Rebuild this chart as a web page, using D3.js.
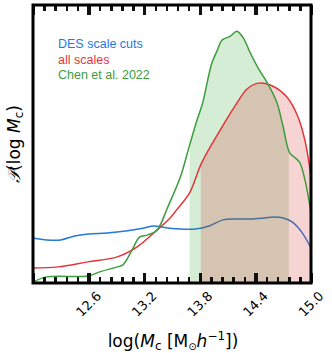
<!DOCTYPE html>
<html>
<head>
<meta charset="utf-8">
<script src="https://cdn.jsdelivr.net/npm/d3@7"></script>
<style>
  body { margin: 0; background: #fff; }
  svg { display: block; }
</style>
</head>
<body>
<div id="chart"></div>
<script>
// x grid (log Mc) and curves
var blueX = [12.0, 12.15, 12.3, 12.45, 12.6, 12.8, 13.0, 13.2, 13.3, 13.45, 13.6, 13.75, 13.9, 14.05, 14.2, 14.35, 14.5, 14.6, 14.7, 14.8, 14.9, 15.0];
var blueY = [0.162, 0.155, 0.155, 0.169, 0.176, 0.180, 0.187, 0.198, 0.205, 0.198, 0.194, 0.194, 0.205, 0.227, 0.230, 0.230, 0.234, 0.237, 0.234, 0.219, 0.183, 0.126];

var redX = [12.0, 12.27, 12.59, 12.91, 13.12, 13.34, 13.48, 13.55, 13.69, 13.82, 14.02, 14.2, 14.31, 14.43, 14.56, 14.74, 14.86, 14.94, 15.0];
var redY = [0.054, 0.058, 0.076, 0.094, 0.129, 0.191, 0.234, 0.263, 0.324, 0.432, 0.550, 0.647, 0.698, 0.719, 0.712, 0.669, 0.597, 0.504, 0.381];

var greenX = [12.0, 12.15, 12.59, 12.72, 12.91, 12.97, 13.07, 13.15, 13.24, 13.34, 13.45, 13.59, 13.69, 13.77, 13.83, 13.93, 13.99, 14.04, 14.13, 14.2, 14.27, 14.34, 14.43, 14.53, 14.63, 14.7, 14.77, 14.83, 14.88, 14.94, 15.0];
var greenY = [0.003, 0.022, 0.025, 0.040, 0.058, 0.065, 0.119, 0.165, 0.173, 0.191, 0.270, 0.381, 0.496, 0.586, 0.647, 0.791, 0.838, 0.874, 0.888, 0.906, 0.881, 0.831, 0.773, 0.719, 0.651, 0.561, 0.468, 0.450, 0.432, 0.363, 0.252];

// shaded intervals
var redBand = [13.81, 15.0];
var greenBand = [13.69, 14.76];

var legendLabels = ["DES scale cuts", "all scales", "Chen et al. 2022"];
var xTicks = [12.6, 13.2, 13.8, 14.4, 15.0];
var majorTicks = [12.0, 12.6, 13.2, 13.8, 14.4, 15.0];
var minorTicks = [12.12, 12.24, 12.36, 12.48, 12.72, 12.84, 12.96, 13.08, 13.32, 13.44, 13.56, 13.68,
	13.92, 14.04, 14.16, 14.28, 14.52, 14.64, 14.76, 14.88];

var colors = { blue: "#2479dc", red: "#e2363b", green: "#3d9c3d" };

var width = 332, height = 353;
var margin = { top: 5, right: 21, bottom: 70, left: 33 };
var w = width - margin.left - margin.right,
	h = height - margin.top - margin.bottom;

var svg = d3.select("#chart").append("svg")
	.attr("width", width)
	.attr("height", height);

var g = svg.append("g")
	.attr("transform", "translate(" + margin.left + "," + margin.top + ")");

var x = d3.scaleLinear().domain([12.0, 15.0]).range([0, w]);
var y = d3.scaleLinear().domain([0, 1]).range([h, 0]);

function pts(xs, ys) {
	return xs.map(function (d, i) { return [d, ys[i]]; });
}
var blue = pts(blueX, blueY), red = pts(redX, redY), green = pts(greenX, greenY);

var line = d3.line()
	.x(function (d) { return x(d[0]); })
	.y(function (d) { return y(d[1]); })
	.curve(d3.curveCatmullRom.alpha(0.5));

var area = d3.area()
	.x(function (d) { return x(d[0]); })
	.y0(h)
	.y1(function (d) { return y(d[1]); })
	.curve(d3.curveCatmullRom.alpha(0.5));

var defs = svg.append("defs");
function band(id, r) {
	defs.append("clipPath").attr("id", id)
		.append("rect")
		.attr("x", x(r[0])).attr("y", 0)
		.attr("width", x(r[1]) - x(r[0])).attr("height", h);
}
band("clipGreen", greenBand);
band("clipRed", redBand);

// blue line sits beneath the shading
g.append("path").attr("d", line(blue))
	.attr("fill", "none").attr("stroke", colors.blue).attr("stroke-width", 1.5);

g.append("path").attr("d", area(green))
	.attr("clip-path", "url(#clipGreen)")
	.attr("fill", "#2ca02c").attr("fill-opacity", 0.2);
g.append("path").attr("d", area(red))
	.attr("clip-path", "url(#clipRed)")
	.attr("fill", "#d62728").attr("fill-opacity", 0.2);

g.append("path").attr("d", line(red))
	.attr("fill", "none").attr("stroke", colors.red).attr("stroke-width", 1.5);
g.append("path").attr("d", line(green))
	.attr("fill", "none").attr("stroke", colors.green).attr("stroke-width", 1.5);

// ticks, inward on top and bottom, drawn with d3 axes
function tickAxis(axisFn, vals, len, sw, ty) {
	var a = g.append("g")
		.attr("transform", "translate(0," + ty + ")")
		.call(axisFn(x).tickValues(vals).tickSize(len).tickFormat(""));
	a.select(".domain").remove();
	a.selectAll("line")
		.style("stroke", "#111")
		.style("stroke-width", sw)
		.attr("shape-rendering", "crispEdges");
}
tickAxis(d3.axisBottom, minorTicks, -6, 2.5, h);
tickAxis(d3.axisBottom, majorTicks, -10, 3.5, h);
tickAxis(d3.axisTop, minorTicks, -6, 2.5, 0);
tickAxis(d3.axisTop, majorTicks, -10, 3.5, 0);

// frame
g.append("rect")
	.attr("x", 0).attr("y", 0).attr("width", w).attr("height", h)
	.attr("fill", "none").attr("stroke", "#000").attr("stroke-width", 3);

// tick labels, rotated
g.selectAll(".xlab").data(xTicks).enter().append("text")
	.attr("class", "xlab")
	.attr("transform", function (d) { return "translate(" + x(d) + "," + (h + 21) + ") rotate(-45)"; })
	.attr("text-anchor", "middle")
	.attr("dy", "0.35em")
	.attr("font-family", "DejaVu Sans, sans-serif")
	.attr("font-size", "13px")
	.text(function (d) { return d3.format(".1f")(d); });

// axis titles
var xt = svg.append("text")
	.attr("x", margin.left + w / 2 + 1)
	.attr("y", 347)
	.attr("text-anchor", "middle")
	.attr("font-family", "DejaVu Sans, sans-serif")
	.attr("font-size", "17px");
xt.append("tspan").text("log(");
xt.append("tspan").attr("font-style", "italic").text("M");
xt.append("tspan").attr("font-size", "12px").attr("dy", "3").text("c");
xt.append("tspan").attr("dy", "-3").text(" [M");
xt.append("tspan").attr("font-size", "10px").attr("dy", "3").text("⊙");
xt.append("tspan").attr("dy", "-3").attr("font-style", "italic").text("h");
xt.append("tspan").attr("font-size", "12px").attr("dy", "-7").text("−1");
xt.append("tspan").attr("dy", "7").text("])");

var yt = svg.append("text")
	.attr("transform", "translate(20," + (margin.top + h / 2) + ") rotate(-90)")
	.attr("text-anchor", "middle")
	.attr("font-family", "DejaVu Sans, sans-serif")
	.attr("font-size", "17px");
yt.append("tspan").attr("font-style", "italic").text("𝒫");
yt.append("tspan").text("(log ");
yt.append("tspan").attr("font-style", "italic").text("M");
yt.append("tspan").attr("font-size", "12px").attr("dy", "3").text("c");
yt.append("tspan").attr("dy", "-3").text(")");

// legend
var legendColors = [colors.blue, colors.red, colors.green];
g.selectAll(".leg").data(legendLabels).enter().append("text")
	.attr("class", "leg")
	.attr("x", 25)
	.attr("y", function (d, i) { return 43 + i * 15.5; })
	.attr("font-family", "Liberation Sans, Arial, sans-serif")
	.attr("font-size", "12.5px")
	.attr("fill", function (d, i) { return legendColors[i]; })
	.text(function (d) { return d; });
</script>
</body>
</html>
